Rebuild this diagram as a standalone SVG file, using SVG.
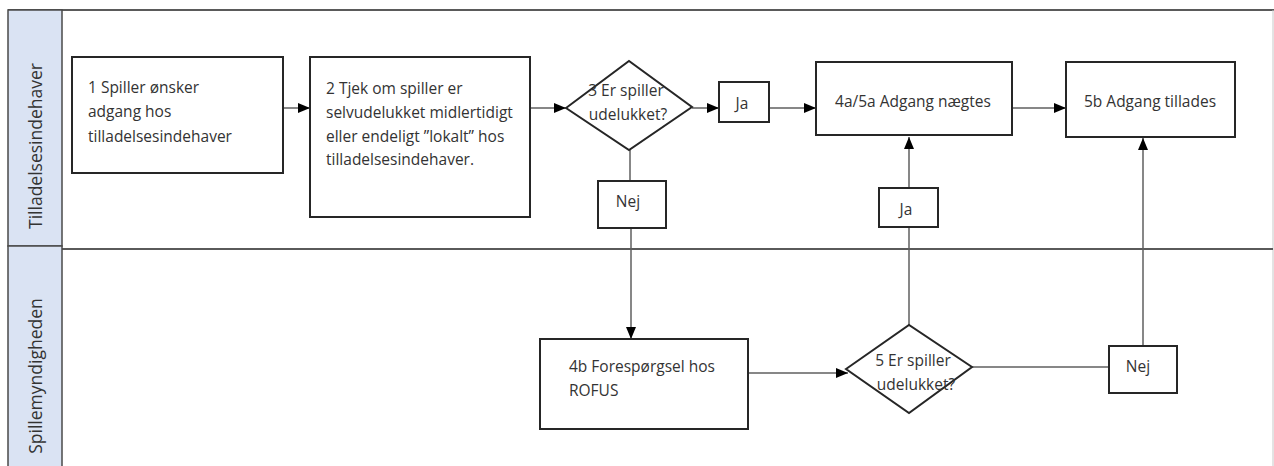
<svg xmlns="http://www.w3.org/2000/svg" width="1274" height="466" viewBox="0 0 1274 466">
<defs>
<style>
.lane{fill:#dae3f3;stroke:#4a4a4a;stroke-width:1.5}
.frame{fill:none;stroke:#5a5a5a;stroke-width:2}
.box{fill:#fff;stroke:#262626;stroke-width:2}
.con{fill:none;stroke:#5f5f5f;stroke-width:1.5}
.t{font-family:"Open Sans","Liberation Sans",sans-serif;font-size:15.5px;fill:#333}
.c{text-anchor:middle}
.h{font-family:"Open Sans","Liberation Sans",sans-serif;font-size:17.5px;fill:#333;text-anchor:middle}
</style>
<marker id="ah" markerUnits="userSpaceOnUse" markerWidth="12" markerHeight="12" viewBox="0 0 12 12" refX="12" refY="6" orient="auto">
<path d="M0,1 L12,6 L0,11 Z" fill="#000"/>
</marker>
</defs>
<rect width="1274" height="466" fill="#fff"/>
<g id="pool">
<line class="frame" x1="8" y1="10" x2="1274" y2="10"/>
<line x1="1273" y1="10" x2="1273" y2="466" stroke="#c8c8c8" stroke-width="1"/>
<line class="frame" x1="62" y1="249" x2="1273" y2="249"/>
</g>
<g id="lane1">
<rect class="lane" x="8" y="10" width="54" height="236"/>
<text class="h" transform="translate(42,146) rotate(-90)">Tilladelsesindehaver</text>
</g>
<g id="lane2">
<rect class="lane" x="8" y="246" width="54" height="230"/>
<text class="h" transform="translate(42,376) rotate(-90)">Spillemyndigheden</text>
</g>
<g id="connectors">
<line class="con" x1="283" y1="108" x2="310" y2="108" marker-end="url(#ah)"/>
<line class="con" x1="530" y1="108" x2="566" y2="108" marker-end="url(#ah)"/>
<line class="con" x1="692" y1="108" x2="719" y2="108" marker-end="url(#ah)"/>
<line class="con" x1="769" y1="108" x2="816" y2="108" marker-end="url(#ah)"/>
<line class="con" x1="1012" y1="108" x2="1066" y2="108" marker-end="url(#ah)"/>
<line class="con" x1="630" y1="150" x2="630" y2="181"/>
<line class="con" x1="631" y1="228" x2="631" y2="339" marker-end="url(#ah)"/>
<line class="con" x1="748" y1="373" x2="848" y2="373" marker-end="url(#ah)"/>
<line class="con" x1="909" y1="325" x2="909" y2="227"/>
<line class="con" x1="909" y1="188" x2="909" y2="137" marker-end="url(#ah)"/>
<line class="con" x1="972" y1="367" x2="1109" y2="367"/>
<line class="con" x1="1143" y1="346" x2="1143" y2="138" marker-end="url(#ah)"/>
</g>
<g id="n1">
<rect class="box" x="72" y="57" width="211" height="116"/>
<text class="t" x="88" y="92.5">1 Spiller ønsker</text>
<text class="t" x="88" y="117">adgang hos</text>
<text class="t" x="88" y="141.5">tilladelsesindehaver</text>
</g>
<g id="n2">
<rect class="box" x="310" y="57" width="220" height="160"/>
<text class="t" x="326" y="94">2 Tjek om spiller er</text>
<text class="t" x="326" y="117.5">selvudelukket midlertidigt</text>
<text class="t" x="326" y="141.5">eller endeligt ”lokalt” hos</text>
<text class="t" x="326" y="165">tilladelsesindehaver.</text>
</g>
<g id="n3">
<polygon class="box" points="566,108 629,61 692,107 629,150"/>
<text class="t c" x="626" y="95.5">3 Er spiller</text>
<text class="t c" x="628" y="119.5">udelukket?</text>
</g>
<g id="ja1">
<rect class="box" x="719" y="82" width="50" height="40"/>
<text class="t c" x="742" y="108.5">Ja</text>
</g>
<g id="n4a">
<rect class="box" x="816" y="62" width="196" height="73"/>
<text class="t c" x="913" y="107">4a/5a Adgang nægtes</text>
</g>
<g id="n5b">
<rect class="box" x="1066" y="62" width="169" height="75"/>
<text class="t c" x="1150" y="107">5b Adgang tillades</text>
</g>
<g id="nej1">
<rect class="box" x="598" y="181" width="68" height="47"/>
<text class="t c" x="628" y="206.5">Nej</text>
</g>
<g id="ja2">
<rect class="box" x="879" y="188" width="59" height="39"/>
<text class="t c" x="906" y="214.5">Ja</text>
</g>
<g id="n4b">
<rect class="box" x="540" y="339" width="208" height="90"/>
<text class="t" x="569" y="371.5">4b Forespørgsel hos</text>
<text class="t" x="569" y="396">ROFUS</text>
</g>
<g id="n5">
<polygon class="box" points="846,369 909,325 972,367 909,413"/>
<text class="t c" x="913" y="365.5">5 Er spiller</text>
<text class="t c" x="916" y="390">udelukket?</text>
</g>
<g id="nej2">
<rect class="box" x="1109" y="346" width="68" height="47"/>
<text class="t c" x="1138" y="371.5">Nej</text>
</g>
</svg>
